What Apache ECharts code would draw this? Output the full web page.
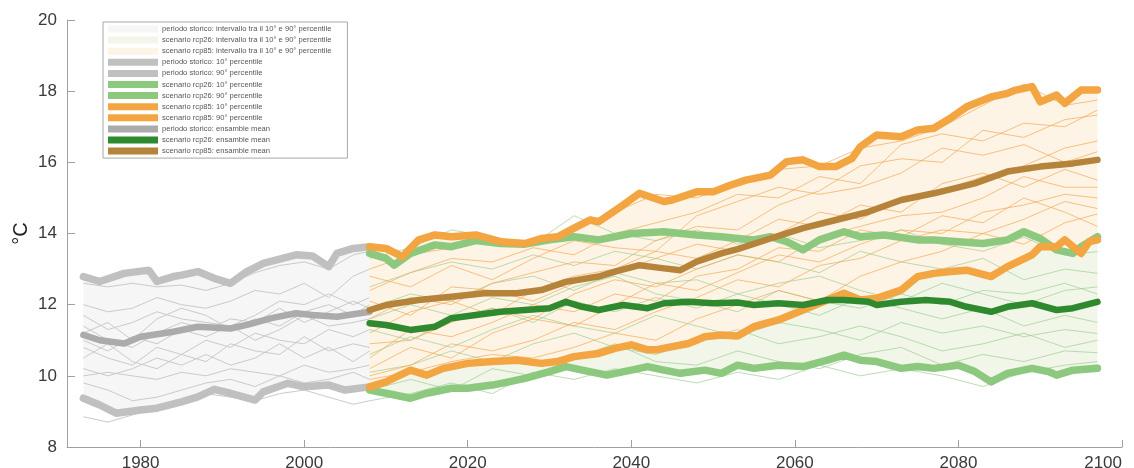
<!DOCTYPE html>
<html>
<head>
<meta charset="utf-8">
<script src="https://cdn.jsdelivr.net/npm/echarts@6/dist/echarts.min.js"></script>
<style>
  html, body { margin: 0; padding: 0; background: #fff; }
  #chart { width: 1134px; height: 468px; }
</style>
</head>
<body>
<div id="chart"></div>
<script>
// ---- tick labels ----
const xTicks = [1980, 2000, 2020, 2040, 2060, 2080, 2100];

// ---- historical period (°C) ----
const histP90 = [[1973,12.79],[1975,12.65],[1978,12.88],[1981,12.97],[1982,12.65],[1984,12.79],[1985,12.83],[1987,12.93],[1989,12.74],[1991,12.6],[1993,12.93],[1995,13.16],[1999,13.4],[2001,13.37],[2003,13.07],[2004,13.44],[2006,13.58],[2008,13.63]];
const histMean = [[1973,11.15],[1975,11.0],[1978,10.91],[1980,11.1],[1984,11.24],[1987,11.38],[1991,11.33],[1993,11.43],[1996,11.62],[1999,11.76],[2001,11.71],[2004,11.66],[2008,11.8]];
const histP10 = [[1973,9.37],[1975,9.18],[1977,8.95],[1980,9.04],[1982,9.09],[1985,9.27],[1987,9.41],[1989,9.62],[1991,9.51],[1994,9.32],[1995,9.55],[1998,9.79],[2000,9.69],[2003,9.74],[2005,9.6],[2008,9.69]];
const histYears = [1973,1976,1979,1982,1985,1988,1991,1994,1997,2000,2003,2006,2008];
const histMembers = [
  [12.6,12.5,12.6,12.5,12.55,12.4,12.6,12.9,13.1,13.2,13.0,13.4,13.5],
  [12.0,11.8,11.9,12.2,12.0,11.9,12.1,12.4,12.3,12.6,12.2,12.8,13.0],
  [11.7,11.3,11.5,11.8,11.6,11.5,11.4,11.7,12.1,12.0,12.3,12.0,12.2],
  [11.4,11.0,10.8,11.2,11.5,11.3,11.6,11.5,11.9,11.5,11.8,12.1,11.9],
  [11.0,10.7,11.1,10.9,11.3,11.1,11.4,11.0,11.3,11.7,11.4,11.5,11.6],
  [10.8,10.5,10.3,10.8,10.6,11.0,10.8,11.2,11.0,10.9,11.3,11.1,11.3],
  [10.5,10.9,10.4,10.2,10.6,10.4,10.9,10.7,10.6,11.1,10.7,10.9,10.8],
  [10.2,10.0,10.2,10.5,10.3,10.6,10.3,10.5,10.9,10.5,10.8,10.4,10.7],
  [10.0,10.1,10.0,9.9,10.1,10.0,10.2,10.1,10.0,10.3,10.1,10.2,10.3],
  [9.8,9.6,9.3,9.4,9.6,9.8,9.9,9.7,10.0,9.8,9.9,10.1,9.9],
  [8.85,8.7,8.9,9.1,9.2,9.5,9.4,9.3,9.5,9.6,9.4,9.2,9.3],
  [11.2,11.5,11.0,11.6,11.9,11.7,11.3,11.6,11.4,11.8,12.0,11.7,12.0]
];

// ---- scenario rcp85 (°C) ----
const r85P90 = [[2008,13.63],[2010,13.58],[2012,13.35],[2014,13.82],[2016,13.96],[2018,13.91],[2021,13.96],[2024,13.77],[2027,13.72],[2029,13.86],[2031,13.91],[2033,14.15],[2035,14.38],[2036,14.33],[2039,14.8],[2041,15.13],[2044,14.9],[2045,14.94],[2048,15.17],[2050,15.17],[2052,15.35],[2054,15.5],[2057,15.64],[2059,16.02],[2061,16.07],[2063,15.88],[2065,15.88],[2067,16.11],[2068,16.44],[2070,16.77],[2073,16.72],[2075,16.91],[2077,16.96],[2079,17.24],[2081,17.56],[2084,17.84],[2086,17.94],[2087,18.03],[2089,18.13],[2090,17.7],[2092,17.89],[2093,17.66],[2095,18.03],[2097,18.03]];
const r85Mean = [[2008,11.85],[2010,11.99],[2014,12.13],[2018,12.22],[2022,12.32],[2026,12.32],[2029,12.41],[2032,12.64],[2036,12.79],[2038,12.93],[2041,13.11],[2044,13.02],[2046,12.97],[2048,13.21],[2051,13.44],[2053,13.56],[2057,13.86],[2061,14.15],[2065,14.38],[2069,14.61],[2073,14.94],[2077,15.13],[2082,15.41],[2086,15.74],[2090,15.88],[2094,15.97],[2097,16.07]];
const r85P10 = [[2008,9.69],[2010,9.83],[2013,10.16],[2015,10.02],[2017,10.21],[2020,10.35],[2023,10.4],[2026,10.44],[2029,10.35],[2031,10.4],[2033,10.54],[2036,10.63],[2038,10.77],[2040,10.87],[2042,10.73],[2043,10.73],[2045,10.82],[2047,10.91],[2049,11.1],[2051,11.15],[2053,11.12],[2055,11.38],[2058,11.57],[2061,11.85],[2063,12.04],[2066,12.32],[2068,12.13],[2070,12.18],[2073,12.41],[2075,12.79],[2077,12.88],[2079,12.93],[2081,12.97],[2084,12.79],[2086,13.07],[2089,13.4],[2090,13.63],[2092,13.63],[2093,13.82],[2095,13.44],[2096,13.77],[2097,13.82]];

// ---- scenario rcp26 (°C) ----
const r26P90 = [[2008,13.44],[2010,13.3],[2011,13.11],[2013,13.44],[2016,13.68],[2018,13.63],[2021,13.8],[2024,13.72],[2027,13.7],[2030,13.82],[2033,13.91],[2036,13.82],[2040,14.0],[2044,14.05],[2048,13.96],[2051,13.91],[2053,13.86],[2055,13.82],[2057,13.91],[2059,13.77],[2061,13.54],[2063,13.82],[2066,14.05],[2068,13.91],[2071,13.96],[2075,13.82],[2077,13.82],[2080,13.77],[2083,13.72],[2086,13.82],[2088,14.05],[2090,13.86],[2092,13.54],[2094,13.44],[2095,13.63],[2097,13.91]];
const r26Mean = [[2008,11.48],[2010,11.43],[2013,11.29],[2016,11.38],[2018,11.62],[2021,11.71],[2024,11.8],[2027,11.85],[2030,11.9],[2032,12.08],[2034,11.94],[2036,11.85],[2039,11.99],[2042,11.9],[2044,12.04],[2047,12.08],[2050,12.04],[2053,12.06],[2055,11.99],[2058,12.04],[2061,11.99],[2064,12.13],[2066,12.13],[2069,12.08],[2070,11.99],[2073,12.08],[2076,12.13],[2079,12.08],[2081,11.94],[2084,11.8],[2086,11.94],[2089,12.04],[2092,11.85],[2094,11.9],[2097,12.08]];
const r26P10 = [[2008,9.6],[2010,9.51],[2013,9.37],[2015,9.51],[2018,9.65],[2020,9.65],[2023,9.74],[2025,9.83],[2027,9.93],[2030,10.12],[2032,10.26],[2034,10.16],[2037,10.02],[2040,10.16],[2042,10.26],[2044,10.16],[2046,10.07],[2049,10.16],[2051,10.07],[2053,10.3],[2055,10.21],[2058,10.3],[2061,10.26],[2064,10.44],[2066,10.58],[2068,10.44],[2070,10.4],[2073,10.21],[2075,10.26],[2077,10.21],[2080,10.3],[2082,10.12],[2084,9.83],[2086,10.07],[2089,10.21],[2091,10.12],[2092,10.02],[2094,10.16],[2097,10.21]];

// ---- individual model runs, scenarios ----
const projYears = [2008,2013,2018,2023,2028,2033,2038,2043,2048,2053,2058,2063,2068,2073,2078,2083,2088,2093,2097];
const r85Members = [
  [13.0,13.4,13.6,13.9,13.7,14.2,14.6,15.1,15.0,15.4,15.8,15.9,16.4,16.6,17.0,17.6,18.2,17.6,17.75],
  [12.4,12.9,13.3,13.2,13.6,13.4,14.0,14.3,14.6,15.1,15.0,15.6,15.4,16.5,16.8,16.6,17.1,17.0,17.47],
  [11.6,12.2,12.0,12.6,12.9,13.2,13.1,13.8,14.2,14.1,14.8,15.2,15.9,16.1,16.0,16.9,16.7,17.2,17.33],
  [12.8,12.5,13.1,12.7,13.3,13.8,13.6,13.5,14.5,14.9,15.3,15.1,15.3,15.7,16.4,16.2,16.5,16.0,16.3],
  [11.2,11.8,12.1,11.7,12.4,12.8,13.0,13.5,13.3,13.8,14.4,14.2,14.8,14.6,15.4,15.7,15.3,15.8,15.5],
  [10.9,11.0,11.5,11.9,11.6,12.3,12.7,12.5,13.0,13.4,13.2,13.9,14.2,14.5,14.6,15.0,15.6,15.3,15.3],
  [10.2,10.8,10.5,11.2,11.6,11.4,12.0,12.6,12.4,12.9,13.4,13.2,13.7,14.1,14.0,14.6,14.8,15.1,15.0],
  [10.0,10.3,10.9,10.7,11.0,11.5,11.3,11.8,12.2,12.7,12.5,13.1,13.3,13.8,14.1,14.0,14.4,14.9,14.7],
  [9.9,10.1,10.4,10.6,10.5,10.8,11.2,11.0,11.6,12.0,12.4,12.1,12.8,13.2,13.5,14.0,13.7,14.3,14.55],
  [12.1,11.7,12.5,12.4,12.1,12.6,12.9,13.3,13.7,13.5,14.0,14.6,14.4,15.0,15.2,15.6,15.9,16.4,16.6],
  [10.5,11.3,11.1,11.5,12.0,11.8,12.3,12.1,12.8,13.0,13.6,13.5,14.1,13.9,14.5,14.3,15.0,14.6,14.2]
];
const r26Members = [
  [13.3,13.6,14.1,13.9,13.7,14.5,14.0,13.8,14.1,13.7,14.0,13.6,13.8,14.1,13.7,13.5,13.9,13.4,13.49],
  [12.5,12.9,13.2,13.0,13.4,13.1,13.5,13.3,13.0,13.4,13.2,12.9,13.5,13.2,13.0,13.3,12.7,13.0,12.88],
  [11.9,12.3,12.1,12.6,12.8,12.4,12.9,12.6,12.7,12.3,12.6,12.8,12.4,12.1,12.6,12.3,12.0,12.4,12.5],
  [11.3,11.0,11.6,11.9,11.5,12.1,11.8,12.2,11.9,12.3,12.0,11.7,12.2,11.9,11.6,11.9,11.4,11.7,11.5],
  [10.6,11.1,10.8,11.3,11.7,11.4,11.2,11.7,11.4,11.1,11.5,11.3,11.0,11.5,11.2,11.4,11.1,11.3,11.19],
  [10.1,10.3,10.7,10.4,10.9,11.2,10.8,10.6,11.0,11.3,10.9,11.1,11.4,11.1,10.7,10.9,11.2,10.8,11.0],
  [9.6,9.9,9.6,10.2,10.0,10.5,10.9,10.4,10.3,10.7,10.4,10.2,10.6,10.8,10.3,10.6,10.4,10.7,10.65],
  [9.3,9.5,9.8,9.5,10.1,9.9,10.2,10.0,9.8,10.1,9.9,10.3,10.0,10.2,10.0,9.7,10.1,10.3,10.4],
  [11.6,12.0,11.7,12.2,12.0,12.5,12.8,12.3,12.1,11.8,12.4,12.1,11.9,12.3,12.0,12.4,12.3,12.6,12.3]
];

// ---- legend labels ----
const LBL = {
  histBand: 'periodo storico: intervallo tra il 10° e 90° percentile',
  r26Band: 'scenario rcp26: intervallo tra il 10° e 90° percentile',
  r85Band: 'scenario rcp85: intervallo tra il 10° e 90° percentile',
  histP10: 'periodo storico: 10° percentile',
  histP90: 'periodo storico: 90° percentile',
  r26P10: 'scenario rcp26: 10° percentile',
  r26P90: 'scenario rcp26: 90° percentile',
  r85P10: 'scenario rcp85: 10° percentile',
  r85P90: 'scenario rcp85: 90° percentile',
  histMean: 'periodo storico: ensamble mean',
  r26Mean: 'scenario rcp26: ensamble mean',
  r85Mean: 'scenario rcp85: ensamble mean'
};

const COL = {
  histBand: '#f6f6f6', r26Band: '#f1f6e8', r85Band: '#fdf4e5',
  histPct: '#c0c0c0', histMean: '#ababab',
  r26Pct: '#8cc97e', r26Mean: '#2f8a2f',
  r85Pct: '#f2a541', r85Mean: '#b5843a',
  histThin: '#cacaca', r26Thin: 'rgba(160,205,150,0.7)', r85Thin: 'rgba(242,170,85,0.7)'
};

const zip = (xs, ys) => xs.map((x, i) => [x, ys[i]]);

// filled band between an upper and a lower curve
function band(name, upper, lower, color) {
  return {
    name: name,
    type: 'custom',
    silent: true,
    itemStyle: { color: color },
    data: [[upper[0][0], upper[0][1]]],
    renderItem: function (params, api) {
      const pts = upper.map(p => api.coord(p))
        .concat(lower.slice().reverse().map(p => api.coord(p)));
      return { type: 'polygon', shape: { points: pts }, style: { fill: color } };
    },
    z: 1
  };
}

function thick(name, data, color, width) {
  return {
    name: name, type: 'line', data: data, symbol: 'none', silent: true,
    lineStyle: { color: color, width: width, join: 'round', cap: 'round' },
    itemStyle: { color: color }, z: 4
  };
}

function thin(years, vals, color) {
  return {
    type: 'line', data: zip(years, vals), symbol: 'none', silent: true,
    lineStyle: { color: color, width: 1 }, z: 3
  };
}

const series = [
  band(LBL.histBand, histP90, histP10, COL.histBand),
  band(LBL.r26Band, r26P90, r26P10, COL.r26Band),
  band(LBL.r85Band, r85P90, r85P10, COL.r85Band)
];
histMembers.forEach(v => series.push(thin(histYears, v, COL.histThin)));
r26Members.forEach(v => series.push(thin(projYears, v, COL.r26Thin)));
r85Members.forEach(v => series.push(thin(projYears, v, COL.r85Thin)));
series.push(
  thick(LBL.histP10, histP10, COL.histPct, 7.5),
  thick(LBL.histP90, histP90, COL.histPct, 7.5),
  thick(LBL.histMean, histMean, COL.histMean, 6.5),
  thick(LBL.r26P10, r26P10, COL.r26Pct, 7.5),
  thick(LBL.r26P90, r26P90, COL.r26Pct, 7.5),
  thick(LBL.r85P10, r85P10, COL.r85Pct, 7.5),
  thick(LBL.r85P90, r85P90, COL.r85Pct, 7.5),
  thick(LBL.r26Mean, r26Mean, COL.r26Mean, 6.5),
  thick(LBL.r85Mean, r85Mean, COL.r85Mean, 6.5)
);

const legendOrder = [
  ['histBand', COL.histBand], ['r26Band', COL.r26Band], ['r85Band', COL.r85Band],
  ['histP10', COL.histPct], ['histP90', COL.histPct],
  ['r26P10', COL.r26Pct], ['r26P90', COL.r26Pct],
  ['r85P10', COL.r85Pct], ['r85P90', COL.r85Pct],
  ['histMean', COL.histMean], ['r26Mean', COL.r26Mean], ['r85Mean', COL.r85Mean]
];

const chart = echarts.init(document.getElementById('chart'), null, { renderer: 'canvas' });
chart.setOption({
  animation: false,
  backgroundColor: '#ffffff',
  textStyle: { fontFamily: 'Liberation Sans, Arial, sans-serif' },
  grid: { left: 67, right: 12, top: 20, bottom: 21, containLabel: false, outerBoundsMode: 'none' },
  legend: {
    orient: 'vertical',
    left: 103, top: 22,
    padding: [3, 16, 3, 5],
    backgroundColor: '#ffffff',
    borderColor: '#a8a8a8', borderWidth: 1,
    itemWidth: 50, itemHeight: 7, itemGap: 3.1,
    selectedMode: false,
    textStyle: { fontSize: 7.6, lineHeight: 7, color: '#555', padding: [0, 0, 0, -1] },
    data: legendOrder.map(([k, c]) => ({ name: LBL[k], icon: 'rect', itemStyle: { color: c, borderWidth: 0 } }))
  },
  xAxis: {
    type: 'value', min: 1971, max: 2100,
    axisLine: { show: true, lineStyle: { color: '#a0a0a0', width: 1 } },
    axisTick: { show: true, inside: true, length: 7, customValues: xTicks, lineStyle: { color: '#a0a0a0' } },
    axisLabel: { customValues: xTicks, fontSize: 17, color: '#3a3a3a', margin: 8, alignMaxLabel: 'right', formatter: v => String(v) },
    splitLine: { show: false }
  },
  yAxis: {
    type: 'value', min: 8, max: 20, interval: 2,
    name: '°C', nameLocation: 'middle', nameGap: 36, nameRotate: 90, nameMoveOverlap: false,
    nameTextStyle: { fontSize: 20, color: '#222' },
    axisLine: { show: true, lineStyle: { color: '#a0a0a0', width: 1 } },
    axisTick: { show: true, inside: true, length: 8, lineStyle: { color: '#a0a0a0' } },
    axisLabel: { fontSize: 17, color: '#3a3a3a', margin: 10 },
    splitLine: { show: false }
  },
  series: series
});
</script>
</body>
</html>
